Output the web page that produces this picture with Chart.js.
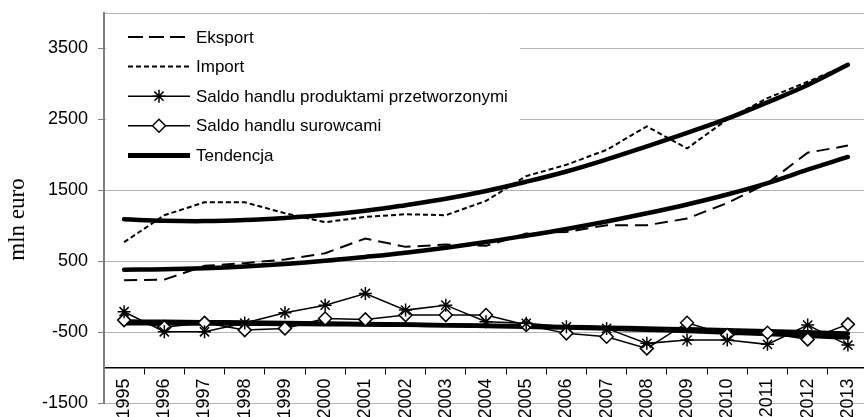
<!DOCTYPE html>
<html>
<head>
<meta charset="utf-8">
<script src="https://cdn.jsdelivr.net/npm/chart.js@4.4.1/dist/chart.umd.min.js"></script>
<style>
  html, body { margin: 0; padding: 0; background: #fff; overflow: hidden; }
  #wrap { width: 876px; height: 417px; }
</style>
</head>
<body>
<div id="wrap"><canvas id="tradeChart"></canvas></div>
<script>
const years = ['1995', '1996', '1997', '1998', '1999', '2000', '2001', '2002', '2003', '2004',
  '2005', '2006', '2007', '2008', '2009', '2010', '2011', '2012', '2013'];

const eksport = [232, 240, 434, 472, 524, 612, 820, 702, 735, 716, 890, 913, 1007, 1007, 1101, 1320, 1600, 2030, 2130];
const importy = [768, 1148, 1331, 1331, 1176, 1050, 1124, 1162, 1148, 1350, 1700, 1860, 2070, 2401, 2090, 2500, 2800, 3030, 3270];
const saldoPrzetw = [-213, -496, -496, -373, -228, -120, 45, -190, -120, -355, -377, -425, -448, -659, -613, -613, -673, -401, -683];
const saldoSurowce = [-331, -430, -370, -472, -448, -308, -321, -260, -260, -260, -400, -518, -566, -730, -368, -542, -510, -603, -391];

const trendImport = [1090, 1070, 1065, 1080, 1110, 1150, 1210, 1290, 1380, 1490, 1620, 1765, 1935, 2120, 2310, 2510, 2740, 2985, 3270];
const trendEksport = [380, 385, 400, 425, 460, 505, 560, 620, 690, 770, 860, 955, 1060, 1175, 1300, 1440, 1600, 1790, 1970];
const trendPrzetw = [-350, -355, -360, -366, -372, -379, -386, -394, -403, -413, -424, -437, -451, -467, -485, -505, -527, -551, -578];
const trendSurowce = [-375, -377, -379, -382, -385, -389, -393, -398, -404, -411, -419, -428, -438, -449, -461, -474, -488, -503, -520];

const yTicks = [-1500, -500, 500, 1500, 2500, 3500, 4000];

const FONT = '"Liberation Sans", Arial, sans-serif';

const boxLegend = {
  id: 'boxLegend',
  beforeDatasetsDraw(chart) {
    const ctx = chart.ctx;
    ctx.save();
    ctx.fillStyle = '#fff';
    ctx.fillRect(106, 17, 414, 160);
    ctx.font = '17px ' + FONT;
    ctx.textBaseline = 'middle';
    ctx.textAlign = 'left';
    for (let i = 0; i < 5; i++) {
      const ds = chart.data.datasets[i];
      const y = 37 + i * 29.6;
      ctx.strokeStyle = '#000';
      ctx.lineWidth = i === 4 ? 5 : ds.borderWidth;
      ctx.setLineDash(ds.legendDash || []);
      ctx.beginPath();
      ctx.moveTo(128, y);
      ctx.lineTo(190, y);
      ctx.stroke();
      ctx.setLineDash([]);
      if (ds.pointRadius > 0) {
        ctx.fillStyle = '#fff';
        ctx.lineWidth = ds.pointBorderWidth;
        Chart.helpers.drawPoint(ctx, {
          pointStyle: ds.pointStyle, radius: ds.pointRadius, rotation: 0, borderWidth: ds.pointBorderWidth
        }, 159, y);
      }
      ctx.fillStyle = '#000';
      ctx.fillText(ds.label, 196, y + 1);
    }
    ctx.restore();
  }
};

const dashed = (label, data, dash, legendDash) => ({
  label, data, borderColor: '#000', borderWidth: 2, borderDash: dash, legendDash,
  pointRadius: 0, tension: 0, fill: false
});
const marked = (label, data, style) => ({
  label, data, borderColor: '#000', borderWidth: 1.5, pointStyle: style, pointRadius: 6.5,
  pointBorderWidth: 1.5, pointBackgroundColor: '#fff', pointBorderColor: '#000', tension: 0, fill: false
});
const trend = (label, data) => ({
  label, data, borderColor: '#000', borderWidth: 4.5, pointRadius: 0, tension: 0.4,
  borderCapStyle: 'round', fill: false
});

new Chart(document.getElementById('tradeChart'), {
  type: 'line',
  data: {
    labels: years,
    datasets: [
      dashed('Eksport', eksport, [13, 7], [15, 6]),
      dashed('Import', importy, [5, 3], [5, 3]),
      marked('Saldo handlu produktami przetworzonymi', saldoPrzetw, 'star'),
      marked('Saldo handlu surowcami', saldoSurowce, 'rectRot'),
      trend('Tendencja', trendImport),
      trend('Tendencja', trendEksport),
      trend('Tendencja', trendPrzetw),
      trend('Tendencja', trendSurowce)
    ]
  },
  options: {
    responsive: true,
    maintainAspectRatio: false,
    animation: false,
    layout: { padding: { top: 13, bottom: 14, left: 0, right: 0 } },
    plugins: { legend: { display: false }, tooltip: { enabled: false } },
    scales: {
      x: {
        position: { y: -1000 },
        offset: true,
        afterFit: s => { s.height = 0; s.paddingLeft = 0; s.paddingRight = 0; s.paddingTop = 0; s.paddingBottom = 0; },
        grid: { offset: true, drawOnChartArea: false, drawTicks: true, tickLength: 6, color: '#000', lineWidth: 1 },
        border: { display: true, color: '#000', width: 1.5 },
        ticks: {
          autoSkip: false, minRotation: 90, maxRotation: 90, padding: 5,
          color: '#000', font: { family: FONT, size: 18 }
        }
      },
      y: {
        min: -1500,
        max: 4000,
        afterBuildTicks: s => { s.ticks = yTicks.map(v => ({ value: v })); },
        afterFit: s => { s.width = 104; s.paddingTop = 0; s.paddingBottom = 0; },
        grid: {
          color: '#b3b3b3', lineWidth: 1, tickLength: 6,
          tickColor: c => (c.tick && c.tick.value === 4000) ? 'rgba(0,0,0,0)' : '#808080'
        },
        border: { display: true, color: '#7f7f7f', width: 2 },
        ticks: {
          padding: 10, color: '#000', font: { family: FONT, size: 18 },
          callback: v => v === 4000 ? '' : String(v)
        },
        title: {
          display: true, text: 'mln euro    ', color: '#000',
          font: { family: '"Liberation Serif", "Times New Roman", serif', size: 23 },
          padding: { top: 4, bottom: 0 }
        }
      }
    }
  },
  plugins: [boxLegend]
});
</script>
</body>
</html>
